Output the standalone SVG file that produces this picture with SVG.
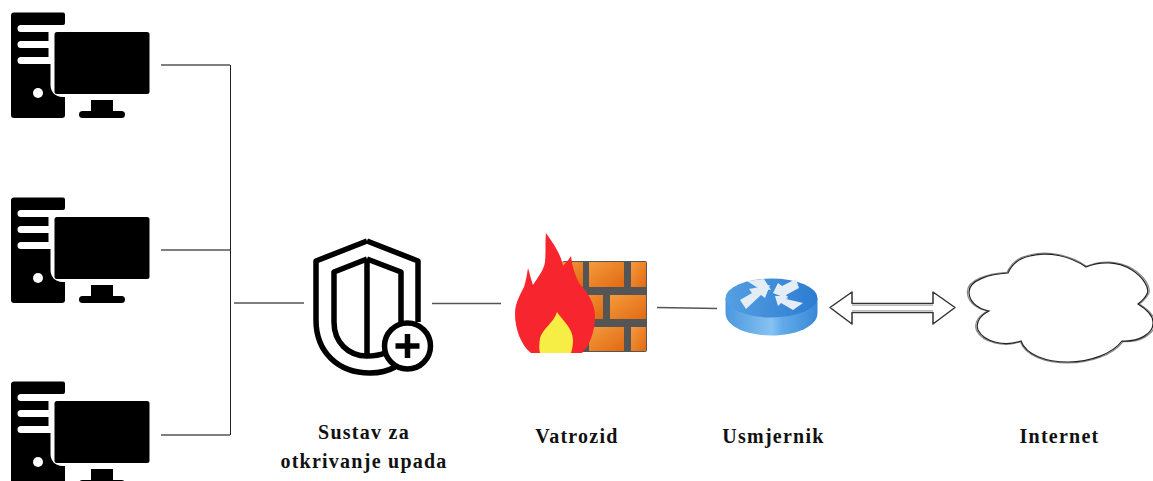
<svg xmlns="http://www.w3.org/2000/svg" width="1153" height="481" viewBox="0 0 1153 481">
<style>
.lbl{font-family:"Liberation Serif","Times New Roman",serif;font-weight:bold;font-size:20px;letter-spacing:1.25px;text-anchor:middle;fill:#111}
.conn{stroke:#555;stroke-width:1.3;fill:none}
.sh{fill:none;stroke:#000;stroke-width:5.500;stroke-linejoin:round}
.mortar{fill:#555}
.brick{fill:url(#brick)}
.soft{filter:url(#soft)}
</style>
<defs>
<filter id="soft" x="-5%" y="-5%" width="110%" height="110%"><feGaussianBlur stdDeviation="0.45"/></filter>
<linearGradient id="brick" x1="0" y1="0" x2="1" y2="1"><stop offset="0" stop-color="#f59a3c"/><stop offset="1" stop-color="#e06a14"/></linearGradient>
<linearGradient id="rside" x1="0" y1="0" x2="1" y2="0"><stop offset="0" stop-color="#4a98de"/><stop offset=".5" stop-color="#86c2f2"/><stop offset=".62" stop-color="#62aaea"/><stop offset="1" stop-color="#3a88d6"/></linearGradient>
<linearGradient id="rtop" x1="0" y1="0" x2="1" y2="0"><stop offset="0" stop-color="#559fe2"/><stop offset="1" stop-color="#2c7cd2"/></linearGradient>
<g id="pc">
<path d="M14,12.500H63a2,2 0 0 1 2,2V23a2,2 0 0 1-2,2H21a3,3 0 0 0 0,7H48.500V41H21a3,3 0 0 0 0,7H48.500V57H21a3,3 0 0 0 0,7H50.500V85c0,7 5,12 12,12H65V115a3,3 0 0 1-3,3H14a3,3 0 0 1-3-3V15.500a3,3 0 0 1 3-3Z" fill="#000"/>
<circle cx="38" cy="93" r="5" fill="#fff"/>
<rect x="54.500" y="32" width="95" height="62" rx="2.500" fill="#000"/>
<rect x="91" y="100" width="22" height="13" fill="#000"/>
<rect x="79" y="111" width="46" height="7" rx="3.500" fill="#000"/>
</g>
<path id="cl" d="M1008,273C1012,264 1020,258 1030,256C1048,251 1070,256 1086,267C1100,261 1118,261 1132,270C1143,277 1150,288 1147,294C1145,298 1142,301 1138,304C1146,309 1153,315 1153,322C1154,334 1138,342 1122,341C1112,354 1090,362 1068,362C1046,362 1026,355 1021,341C1005,347 984,342 978,330C975,322 981,315 989,311C975,308 969,300 969,292C969,280 990,274 1008,273Z"/>
</defs>
<g id="connectors">
<path class="conn" d="M161,65H230M161,250H230M161,435H230M234,303H304M432,303.500H501M657,307.500L717,308.500"/>
<path d="M230.500,65V435" stroke="#222" stroke-width="1" fill="none"/>
<path d="M830,307.500L852,292V303.500H933V292L955,307.500L933,324V312.500H852V324Z" fill="#fff" stroke="#333" stroke-width="1.500" stroke-linejoin="round"/>
<path d="M852,305.500H933M852,310.500H933" stroke="#bbb" stroke-width="1" fill="none"/>
</g>
<g id="pc1" class="soft"><use href="#pc"/></g>
<g id="pc2" class="soft"><use href="#pc" y="185"/></g>
<g id="pc3" class="soft"><use href="#pc" y="369"/></g>
<g id="ids">
<g class="soft">
<path class="sh" d="M367,241L316,261V320C316,352 338,373 370,373C380,373 388,371 395,367M367,241L418,261V322"/>
<path class="sh" d="M367,259L334,272V322C334,342 348,356 367,356C374,356 380,355 385,353M367,259L401,272V322M367,259V356"/>
<circle cx="407.500" cy="346" r="23" fill="#fff" stroke="#000" stroke-width="5.500"/>
<path d="M407.500,334V358M395.500,346H419.500" stroke="#000" stroke-width="5.500" fill="none"/>
</g>
<text class="lbl" x="364" y="439">Sustav za</text>
<text class="lbl" x="364" y="468">otkrivanje upada</text>
</g>
<g id="firewall">
<g class="soft">
<rect class="mortar" x="562" y="261" width="85" height="91" rx="2"/>
<rect class="brick" x="562" y="262" width="21" height="25"/>
<rect class="brick" x="589" y="262" width="35" height="25"/>
<rect class="brick" x="631" y="262" width="15" height="25"/>
<rect class="brick" x="575" y="295" width="28" height="24"/>
<rect class="brick" x="610" y="295" width="36" height="24"/>
<rect class="brick" x="575" y="327" width="8" height="24"/>
<rect class="brick" x="589" y="327" width="35" height="24"/>
<rect class="brick" x="631" y="327" width="15" height="24"/>
<path d="M546,233C553,243 561,254 563,266C566,263 569,259 571,256C572,266 575,275 579,283C587,292 595,303 595,316C595,333 589,346 582,353H531C521,345 515,329 515,314C515,303 520,295 524,287C526,281 527,274 528,268C530,274 531,280 533,285C538,277 544,270 545,262C546,252 545,242 546,233Z" fill="#f7262e"/>
<path d="M557,312C562,320 573,328 573,340C573,345 572,350 571,353H540C539,350 539,345 540,338C543,328 553,324 557,312Z" fill="#f7ee44"/>
</g>
<text class="lbl" x="577" y="443">Vatrozid</text>
</g>
<g id="router">
<g class="soft">
<path d="M725.500,298V313C725.500,326 746,335.500 771.500,335.500S817.500,326 817.500,313V298Z" fill="url(#rside)"/>
<ellipse cx="771.500" cy="298" rx="46" ry="19.500" fill="url(#rtop)"/>
<g fill="#e4edf5">
<path d="M747,281L764,279L771,290L758,288Z"/>
<path d="M740,300L752,293L749,289L770,285L765,298L761,295L746,309Z"/>
<path d="M773,293L778,283L782,286L796,279L799,288L786,295L788,299Z"/>
<path d="M775,296L788,296L786,299L803,303L793,310L781,303L778,306Z"/>
</g>
</g>
<text class="lbl" x="773.500" y="443">Usmjernik</text>
</g>
<g id="internet">
<use href="#cl" fill="none" stroke="#888" stroke-width="1.200" transform="translate(1061,308) scale(1.018) translate(-1061,-308)"/>
<use href="#cl" fill="#fff" stroke="#222" stroke-width="1.200"/>
<text class="lbl" x="1059.500" y="443">Internet</text>
</g>
</svg>
